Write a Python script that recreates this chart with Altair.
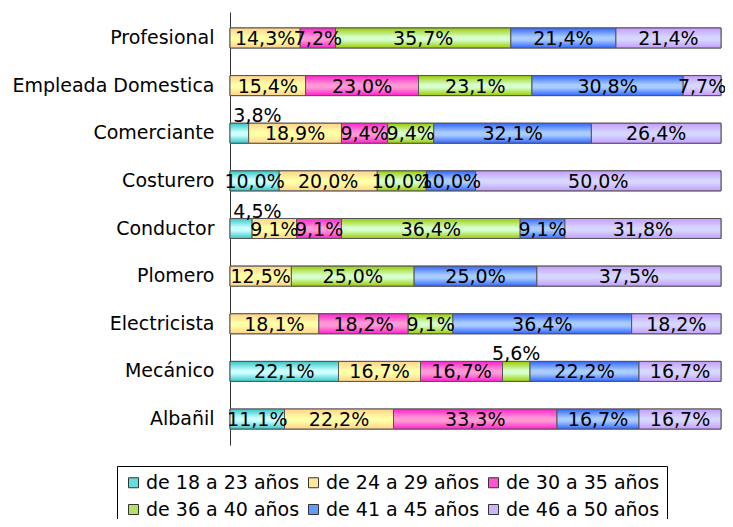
import altair as alt
import pandas as pd

occupations = ["Profesional", "Empleada Domestica", "Comerciante", "Costurero",
               "Conductor", "Plomero", "Electricista", "Mecánico", "Albañil"]
series = ["de 18 a 23 años", "de 24 a 29 años", "de 30 a 35 años",
          "de 36 a 40 años", "de 41 a 45 años", "de 46 a 50 años"]

v18_23 = [0, 0, 3.8, 10.0, 4.5, 0, 0, 22.1, 11.1]
v24_29 = [14.3, 15.4, 18.9, 20.0, 9.1, 12.5, 18.1, 16.7, 22.2]
v30_35 = [7.2, 23.0, 9.4, 0, 9.1, 0, 18.2, 16.7, 33.3]
v36_40 = [35.7, 23.1, 9.4, 10.0, 36.4, 25.0, 9.1, 5.6, 0]
v41_45 = [21.4, 30.8, 32.1, 10.0, 9.1, 25.0, 36.4, 22.2, 16.7]
v46_50 = [21.4, 7.7, 26.4, 50.0, 31.8, 37.5, 18.2, 16.7, 16.7]
values = [v18_23, v24_29, v30_35, v36_40, v41_45, v46_50]

edge_colors = ["#33C6C6", "#FFD28A", "#FF22CC", "#99CC00", "#3366FF", "#C49CFF"]
mid_colors = ["#CCFFFF", "#FFFFA6", "#FF99D6", "#D6FFCC", "#A8CCFF", "#D6D6FF"]
legend_colors = ["#66DDDD", "#FFE699", "#FF55D5", "#B5E066", "#6699FF", "#CCB3FF"]

rows = []
for si, (s, vals) in enumerate(zip(series, values)):
    for occ, v in zip(occupations, vals):
        if v > 0:
            rows.append({"occ": occ, "serie": s, "order": si, "value": v})
df = pd.DataFrame(rows)

FONT = "DejaVu Sans"

y_enc = alt.Y("occ:N", sort=occupations, title=None,
              scale=alt.Scale(paddingInner=0.58, paddingOuter=0.335),
              axis=alt.Axis(domainColor="#333333", domainWidth=1, ticks=False,
                            tickSize=0, labelPadding=16, labelFontSize=19,
                            labelFont=FONT, labelColor="black", grid=False,
                            labelLimit=400))
x_scale = alt.Scale(domain=[0, 100], nice=False)
x_enc = alt.X("x0:Q", scale=x_scale, axis=None)

base = alt.Chart(df).transform_stack(
    stack="value", as_=["x0", "x1"], groupby=["occ"],
    sort=[alt.SortField("order", order="ascending")]
).transform_calculate(
    mid="(datum.x0 + datum.x1) / 2",
    lx="max((datum.x0 + datum.x1) / 2, 5.6)",
    label="replace(format(datum.value, '.1f'), '.', ',') + '%'"
)

legend_layer = base.mark_bar(stroke="#555555", strokeWidth=1).encode(
    y=y_enc, x=x_enc, x2="x1:Q",
    color=alt.Color("serie:N",
                    scale=alt.Scale(domain=series, range=legend_colors),
                    legend=alt.Legend(orient="none", legendX=-113, legendY=454,
                                      columns=3, direction="horizontal", title=None,
                                      labelFontSize=19, labelFont=FONT,
                                      labelColor="black", symbolType="square",
                                      symbolSize=100, symbolStrokeColor="#333333",
                                      symbolStrokeWidth=1, symbolOpacity=1,
                                      strokeColor="#000000", padding=7,
                                      rowPadding=7, columnPadding=4,
                                      labelOffset=3, labelLimit=400))
)

layers = [legend_layer]
for s, ec, mc in zip(series, edge_colors, mid_colors):
    grad = alt.LinearGradient(
        gradient="linear",
        stops=[alt.GradientStop(color=ec, offset=0),
               alt.GradientStop(color=mc, offset=0.45),
               alt.GradientStop(color=mc, offset=0.6),
               alt.GradientStop(color=ec, offset=1)],
        x1=0, x2=0, y1=0, y2=1)
    layers.append(
        base.transform_filter(alt.datum.serie == s)
        .mark_bar(color=grad, stroke="#555555", strokeWidth=1)
        .encode(y=y_enc, x=x_enc, x2="x1:Q")
    )

text_in = base.transform_filter(alt.datum.value >= 6).mark_text(
    font=FONT, fontSize=19, color="black", baseline="middle", dy=1
).encode(y=y_enc, x=alt.X("mid:Q", scale=x_scale, axis=None), text="label:N")

text_above = base.transform_filter(alt.datum.value < 6).mark_text(
    font=FONT, fontSize=19, color="black", baseline="middle", dy=-17
).encode(y=y_enc, x=alt.X("lx:Q", scale=x_scale, axis=None), text="label:N")

layers += [text_in, text_above]

chart = alt.layer(*layers).properties(
    width=491, height=433,
    autosize=alt.AutoSizeParams(type="none"),
    padding={"left": 222, "top": 4, "right": 4, "bottom": 74},
).configure(font=FONT).configure_view(stroke=None)

chart.save("out.html", embed_options={"renderer": "svg", "actions": False})
